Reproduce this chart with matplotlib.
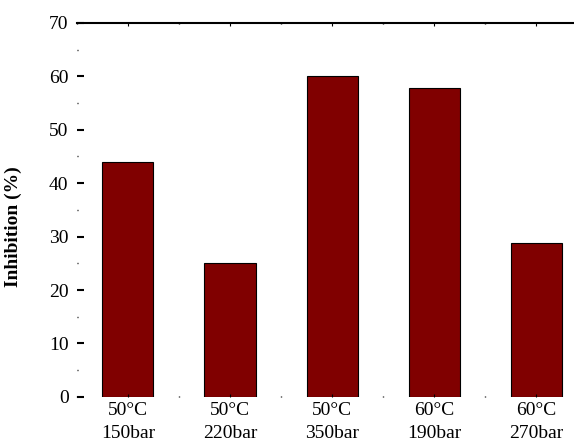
import matplotlib.pyplot as plt
from matplotlib.ticker import MultipleLocator

plt.rcParams['font.family'] = ['Liberation Serif', 'DejaVu Serif']

conditions = ['50°C\n150bar', '50°C\n220bar', '50°C\n350bar', '60°C\n190bar', '60°C\n270bar']
inhibition = [44.0, 25.0, 60.0, 57.8, 28.8]

fig = plt.figure(figsize=(5.74, 4.41), dpi=100)
ax = fig.add_axes([0.134, 0.1, 0.889, 0.848])

x = list(range(len(conditions)))
ax.bar(x, inhibition, width=0.5, color='#800000', edgecolor='black', linewidth=0.8)

ax.set_xlim(-0.5, 4.5)
ax.set_ylim(0, 70)
ax.set_xticks(x)
ax.set_xticklabels(conditions, fontsize=14, linespacing=1.4)
ax.set_xticks([i + 0.5 for i in range(-1, 5)], minor=True)
ax.yaxis.set_major_locator(MultipleLocator(10))
ax.yaxis.set_minor_locator(MultipleLocator(5))
ax.tick_params(axis='y', labelsize=14)

for s in ['left', 'right', 'bottom']:
    ax.spines[s].set_visible(False)
ax.spines['top'].set_linewidth(1.5)

ax.tick_params(axis='y', which='major', direction='in', length=5, width=1.5, pad=6)
ax.tick_params(axis='y', which='minor', direction='in', length=1, width=1)
ax.tick_params(axis='x', which='major', direction='in', length=2, width=0.8, top=True, pad=4)
ax.tick_params(axis='x', which='minor', direction='in', length=1, width=1, top=True)

ax.set_ylabel('Inhibition (%)', fontsize=14, fontweight='bold')
ax.yaxis.set_label_coords(-0.108, 0.455)

fig.savefig('out.png', dpi=100)
